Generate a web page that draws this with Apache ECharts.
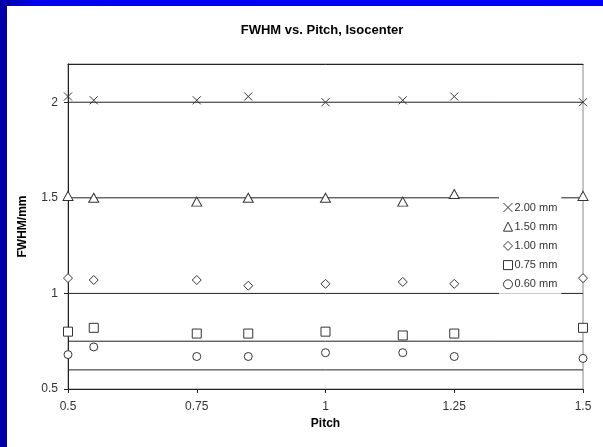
<!DOCTYPE html>
<html>
<head>
<meta charset="utf-8">
<script src="https://cdn.jsdelivr.net/npm/echarts@6/dist/echarts.min.js"></script>
<style>
html,body{margin:0;padding:0;background:#fff;}
#c{width:603px;height:447px;}
</style>
</head>
<body>
<div id="c"></div>
<script>
var pitch = [0.5, 0.55, 0.75, 0.85, 1.0, 1.15, 1.25, 1.5];
var fwhm200 = [2.03, 2.01, 2.01, 2.03, 2.00, 2.01, 2.03, 2.00];
var fwhm150 = [1.51, 1.50, 1.48, 1.50, 1.50, 1.48, 1.52, 1.51];
var fwhm100 = [1.08, 1.07, 1.07, 1.04, 1.05, 1.06, 1.05, 1.08];
var fwhm075 = [0.80, 0.82, 0.79, 0.79, 0.80, 0.78, 0.79, 0.82];
var fwhm060 = [0.68, 0.72, 0.67, 0.67, 0.69, 0.69, 0.67, 0.66];
var nominal = [2.0, 1.5, 1.0, 0.75, 0.6];
var seriesNames = ['2.00 mm', '1.50 mm', '1.00 mm', '0.75 mm', '0.60 mm'];
var xTicks = [0.5, 0.75, 1, 1.25, 1.5];
var yTicks = [0.5, 1, 1.5, 2];

var allValues = [fwhm200, fwhm150, fwhm100, fwhm075, fwhm060];
var symbols = ['path://M0,0L10,10M10,0L0,10', 'triangle', 'diamond', 'rect', 'circle'];
var sizes = [8, [10, 9], [9, 9], 9, 8];
var font = 'Arial, "Liberation Sans", sans-serif';

var series = [];
nominal.forEach(function (v) {
  series.push({
    type: 'line', silent: true, symbol: 'none', z: 1,
    data: [[pitch[0], v], [pitch[pitch.length - 1], v]],
    lineStyle: { color: '#222', width: 1 }
  });
});
allValues.forEach(function (vals, i) {
  series.push({
    name: seriesNames[i], type: 'scatter', z: 3,
    symbol: symbols[i], symbolSize: sizes[i],
    data: vals.map(function (v, k) { return [pitch[k], v]; }),
    itemStyle: { color: '#fff', borderColor: '#333', borderWidth: 1, opacity: 1 }
  });
});

var chart = echarts.init(document.getElementById('c'), null, { renderer: 'canvas' });
chart.setOption({
  animation: false,
  backgroundColor: '#fff',
  graphic: [
    { type: 'rect', left: 0, top: 0, shape: { width: 7, height: 447 }, style: { fill: '#0000a8' }, z: 100 },
    { type: 'rect', left: 0, top: 0, shape: { width: 603, height: 6 }, z: 100,
      style: { fill: new echarts.graphic.LinearGradient(0, 0, 1, 0, [
        { offset: 0, color: '#0000a0' }, { offset: 0.06, color: '#0000f0' }, { offset: 1, color: '#0000ff' }]) } }
  ],
  title: {
    text: 'FWHM vs. Pitch, Isocenter', left: 317, top: 19, textAlign: 'center',
    textStyle: { fontFamily: font, fontSize: 13, fontWeight: 'bold', color: '#000' }
  },
  legend: {
    orient: 'vertical', left: 499, top: 197,
    data: seriesNames,
    itemWidth: 9, itemHeight: 9, itemGap: 8.2,
    padding: [5, 4, 4, 4],
    backgroundColor: '#fff',
    itemStyle: { borderWidth: 1, borderColor: '#333', color: '#fff' },
    textStyle: { fontFamily: font, fontSize: 11, color: '#333', padding: [0, 0, 0, -3] },
    z: 10
  },
  grid: { left: 68, right: 20, top: 64, bottom: 58, show: true, borderColor: '#888', borderWidth: 1 },
  xAxis: [{
    type: 'value', min: 0.5, max: 1.5, interval: 0.25,
    name: 'Pitch', nameLocation: 'middle', nameGap: 23,
    nameTextStyle: { fontFamily: font, fontSize: 12, fontWeight: 'bold', color: '#000' },
    axisLine: { show: true, lineStyle: { color: '#222', width: 1 } },
    axisTick: { show: true, length: 4, lineStyle: { color: '#222' }, customValues: xTicks },
    axisLabel: { fontFamily: font, fontSize: 12, color: '#333', margin: 12, customValues: xTicks },
    splitLine: { show: false }
  }, {
    type: 'value', position: 'top', min: 0.5, max: 1.5,
    axisLine: { show: true, lineStyle: { color: '#222', width: 1 } },
    axisTick: { show: false }, axisLabel: { show: false }, splitLine: { show: false }
  }],
  yAxis: {
    type: 'value', min: 0.5, max: 2.2, interval: 0.5,
    name: 'FWHM/mm', nameLocation: 'middle', nameGap: 39, nameRotate: 90,
    nameTextStyle: { fontFamily: font, fontSize: 12, fontWeight: 'bold', color: '#000' },
    axisLine: { show: true, lineStyle: { color: '#222', width: 1 } },
    axisTick: { show: true, length: 4, lineStyle: { color: '#222' }, customValues: yTicks },
    axisLabel: { fontFamily: font, fontSize: 12, color: '#333', margin: 10, customValues: yTicks },
    splitLine: { show: false }
  },
  series: series
});
</script>
</body>
</html>
